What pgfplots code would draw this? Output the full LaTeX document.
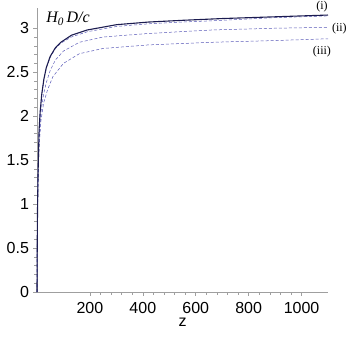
\documentclass[border=0pt]{standalone}
\usepackage{fontspec}
\setmainfont{Liberation Sans}
\newfontfamily\tnr{Liberation Serif}
\usepackage{pgfplots}
\pgfplotsset{compat=1.18}
\definecolor{navy}{HTML}{1C1C50}
\definecolor{dashblue}{HTML}{5A5AB8}
\begin{document}
\begin{tikzpicture}
\useasboundingbox (-37pt,-46pt) rectangle (316pt,292pt);
\begin{axis}[
  scale only axis, width=291pt, height=284pt,
  xmin=0, xmax=1100, ymin=0, ymax=3.23,
  axis lines=left, axis line style={-, gray!75, line width=0.8pt},
  xtick={200,400,...,1000}, ytick={0,0.5,...,3},
  minor x tick num=4, minor y tick num=4,
  tick style={gray!75, line width=0.6pt},
  major tick length=3.5pt, minor tick length=2.5pt,
  tick align=outside,
  ticklabel style={font=\fontsize{16}{16}\selectfont},
  xticklabel style={yshift=-3pt},
  yticklabel style={xshift=-1pt, /pgf/number format/fixed},
  /pgf/number format/assume math mode=true,
  /pgf/number format/1000 sep={},
  xlabel={z}, xlabel style={font=\fontsize{16}{16}\selectfont, yshift=2pt},
  clip=false,
]
  % (iii)
  \addplot[dashblue, line width=0.5pt, dash pattern=on 3pt off 2pt] coordinates {
    (0,0)(1,0.5)(2,0.85)(4,1.25)(8,1.65)(15,1.95)(25,2.15)(40,2.30)(60,2.45)
    (100,2.60)(160,2.71)(250,2.77)(420,2.81)(660,2.84)(900,2.86)(1100,2.88)};
  % (ii)
  \addplot[dashblue, line width=0.5pt, dash pattern=on 3pt off 2pt] coordinates {
    (0,0)(1,0.55)(2,0.9)(4,1.3)(8,1.75)(15,2.05)(25,2.25)(35,2.38)(50,2.52)
    (70,2.64)(100,2.74)(160,2.84)(250,2.90)(420,2.94)(660,2.98)(900,3.00)(1100,3.01)};
  % dashed curve next to (i)
  \addplot[dashblue, line width=0.5pt, dash pattern=on 3pt off 2pt] coordinates {
    (0,0)(1,0.6)(2,0.95)(4,1.35)(8,1.85)(12,2.05)(18,2.25)(26,2.42)(35,2.55)
    (50,2.67)(70,2.77)(90,2.83)(130,2.90)(190,2.96)(300,3.02)(420,3.05)
    (550,3.07)(700,3.09)(900,3.12)(1100,3.14)};
  % (i)
  \addplot[navy, line width=1.1pt] coordinates {
    (0,0)(1,0.6)(2,0.95)(4,1.35)(8,1.85)(12,2.05)(18,2.25)(26,2.42)(35,2.55)
    (50,2.68)(70,2.78)(90,2.84)(130,2.92)(190,2.98)(300,3.04)(420,3.07)
    (550,3.09)(700,3.11)(900,3.13)(1100,3.15)};
  \node[anchor=west, font=\fontsize{16}{16}\selectfont\tnr\itshape]
    at (axis cs:22,3.11) {H\textsubscript{0}\,D/c};
  \node[font=\fontsize{12}{12}\selectfont\tnr] at (axis cs:1077,3.25) {(i)};
  \node[font=\fontsize{12}{12}\selectfont\tnr] at (axis cs:1143,2.99) {(ii)};
  \node[font=\fontsize{12}{12}\selectfont\tnr] at (axis cs:1077,2.73) {(iii)};
\end{axis}
\end{tikzpicture}
\end{document}
